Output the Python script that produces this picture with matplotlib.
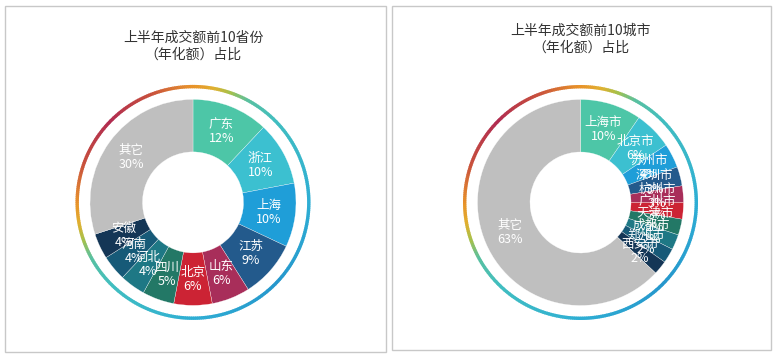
import matplotlib
matplotlib.use("Agg")
import matplotlib.pyplot as plt
import numpy as np
from matplotlib.patches import Wedge, Rectangle
from matplotlib.colors import LinearSegmentedColormap, to_rgb

plt.rcParams['font.family'] = ['Noto Sans CJK SC', 'DejaVu Sans']

# ---- data ----
provinces = ["广东", "浙江", "上海", "江苏", "山东", "北京", "四川", "河北", "河南", "安徽", "其它"]
province_shares = [12, 10, 10, 9, 6, 6, 5, 4, 4, 4, 30]

cities = ["上海市", "北京市", "苏州市", "深圳市", "杭州市", "广州市", "天津市", "成都市", "郑州市", "西安市", "其它"]
city_shares = [9.6, 6.0, 3.8, 3.0, 2.6, 2.6, 2.5, 2.4, 2.3, 2.2, 63.0]

title_left = "上半年成交额前10省份\n（年化额）占比"
title_right = "上半年成交额前10城市\n（年化额）占比"

slice_colors = ["#4dc6a7", "#3cc0d0", "#1f9ed8", "#235a8c", "#a82e5a", "#cc2334",
                "#237866", "#1e7885", "#175a78", "#143656", "#bfbfbf"]

# ring gradient stops (degrees clockwise from top, colour)
ring_stops = [(0, "#e8932a"), (10, "#e0b030"), (18, "#a8c048"), (28, "#58c0a0"),
              (45, "#40bec0"), (90, "#2eaed4"), (135, "#2496cc"), (180, "#2eaed4"),
              (225, "#40bec0"), (242, "#58c0a0"), (252, "#a8c048"), (260, "#e0b030"),
              (270, "#e8932a"), (290, "#c8503c"), (315, "#b02a50"), (340, "#c8503c"),
              (360, "#e8932a")]

W, H = 776, 359
fig = plt.figure(figsize=(W / 100, H / 100), dpi=100)
ax = fig.add_axes([0, 0, 1, 1])


def py(y):
    return H - y


ring_cmap = LinearSegmentedColormap.from_list(
    "ring", [(a / 360.0, to_rgb(c)) for a, c in ring_stops])


def draw_panel(cx, cy, names, shares, title, title_y, box):
    x0, y0, x1, y1 = box
    ax.add_patch(Rectangle((x0, py(y1)), x1 - x0, y1 - y0, fill=False,
                           edgecolor="#c8c8c8", linewidth=1.0))
    center = (cx, py(cy))
    R, r_in = 103, 50.5
    wedges, _ = ax.pie(shares, colors=slice_colors, startangle=90, counterclock=False,
                       radius=R, center=center, frame=True,
                       wedgeprops=dict(width=R - r_in, edgecolor="white", linewidth=0.2))
    total = float(sum(shares))
    rl = (R + r_in) / 2
    for w, name, v in zip(wedges, names, shares):
        mid = np.deg2rad((w.theta1 + w.theta2) / 2)
        tx = center[0] + rl * np.cos(mid)
        ty = center[1] + rl * np.sin(mid)
        ax.text(tx, ty, f"{name}\n{round(v / total * 100):d}%", ha="center", va="center",
                color="white", fontsize=9, linespacing=1.1)
    # gradient ring
    n = 360
    for i in range(n):
        a0 = i * 360.0 / n
        a1 = (i + 1) * 360.0 / n
        col = ring_cmap((a0 + a1) / 2 / 360.0)
        t1 = 90 - a1
        t2 = 90 - a0 + 0.3
        ax.add_patch(Wedge(center, 117.5, t1, t2, width=3.4, facecolor=col,
                           edgecolor="none", linewidth=0))
    ax.text(cx, py(title_y), title, ha="center", va="center", fontsize=10,
            color="#333333", linespacing=1.25)


draw_panel(193, 202.4, provinces, province_shares, title_left, 46, (5, 6, 386, 352))
draw_panel(580.5, 202.5, cities, city_shares, title_right, 39, (392, 6, 771, 350))

ax.set_xlim(0, W)
ax.set_ylim(0, H)
ax.set_aspect("auto")
ax.axis("off")

fig.savefig("out.png", dpi=100, facecolor="white")
